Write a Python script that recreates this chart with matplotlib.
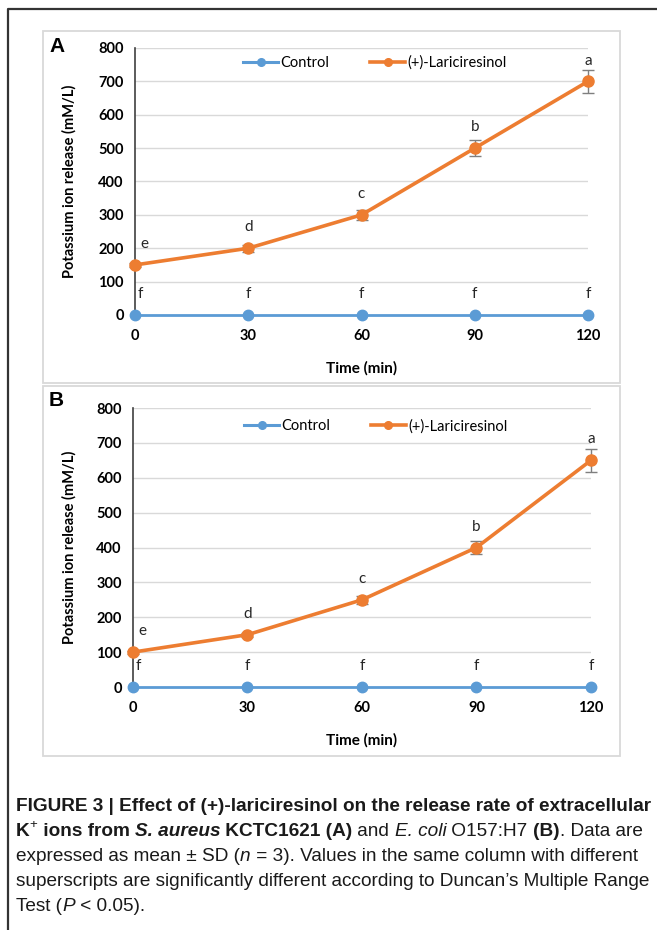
import matplotlib
matplotlib.use('Agg')
import matplotlib.pyplot as plt
from matplotlib import font_manager
from matplotlib.patches import Rectangle
from matplotlib.lines import Line2D

# ---- data ----
times = [0, 30, 60, 90, 120]
control_A = [0, 0, 0, 0, 0]
lari_A = [150, 200, 300, 500, 700]
lari_err_A = [5, 10, 14, 25, 34]
control_B = [0, 0, 0, 0, 0]
lari_B = [100, 150, 250, 400, 650]
lari_err_B = [4, 6, 12, 19, 33]
letters_lari_A = ['e', 'd', 'c', 'b', 'a']
letters_lari_B = ['e', 'd', 'c', 'b', 'a']
letters_ctrl = ['f', 'f', 'f', 'f', 'f']
yticks = [0, 100, 200, 300, 400, 500, 600, 700, 800]

BLUE = '#5B9BD5'
ORANGE = '#ED7D31'
GRID = '#D9D9D9'
CHART_FONT = ['Lato', 'DejaVu Sans']

W, H = 657, 930
fig = plt.figure(figsize=(W / 100, H / 100), dpi=100)


def px(x0, y0, x1, y1):
    # top-left pixel box -> figure fraction rect
    return [x0 / W, 1 - y1 / H, (x1 - x0) / W, (y1 - y0) / H]


def panel(box, axbox, tag, ctrl, lari, err, lab_lari, lab_ctrl, leg_y):
    bx = Rectangle((box[0] / W, 1 - box[3] / H), (box[2] - box[0]) / W,
                   (box[3] - box[1]) / H, transform=fig.transFigure,
                   facecolor='white', edgecolor=GRID, lw=1.3, zorder=-1)
    fig.patches.append(bx)
    fig.text((box[0] + 6) / W, 1 - (box[1] + 15) / H, tag, fontsize=15,
             fontweight='bold', family='Liberation Sans', va='center')

    ax = fig.add_axes(px(*axbox))
    ax.set_facecolor('none')
    ax.set_xlim(0, 120)
    ax.set_ylim(0, 800)
    ax.set_xticks(times)
    ax.set_yticks(yticks)
    ax.tick_params(length=0, labelsize=10.5, pad=10)
    ax.tick_params(axis='y', pad=8)
    for lbl in ax.get_xticklabels() + ax.get_yticklabels():
        lbl.set_fontweight('bold')
        lbl.set_family(CHART_FONT)
    for g in yticks[1:]:
        ax.axhline(g, color=GRID, lw=1, zorder=0)
    for s in ['top', 'right']:
        ax.spines[s].set_visible(False)
    ax.spines['left'].set_color('#404040')
    ax.spines['left'].set_linewidth(1.2)
    ax.spines['bottom'].set_color('#A6A6A6')

    ax.plot(times, ctrl, color=BLUE, lw=2, marker='o', ms=7.5,
            clip_on=False, zorder=4, label='Control')
    ax.errorbar(times, lari, yerr=err, color=ORANGE, lw=2.6, marker='o',
                ms=8, ecolor='#7F7F7F', elinewidth=1, capsize=4,
                capthick=1, clip_on=False, zorder=5, label='(+)-Lariciresinol')

    for t, v, s in zip(times, lari, lab_lari):
        ax.annotate(s, (t, v), xytext=(7 if t == 0 else 0, 15),
                    textcoords='offset points', ha='center', va='center',
                    fontsize=11, family=CHART_FONT, color='#262626')
    for t, v, s in zip(times, ctrl, lab_ctrl):
        ax.annotate(s, (t, v), xytext=(4 if t == 0 else 0, 15),
                    textcoords='offset points', ha='center', va='center',
                    fontsize=11, family=CHART_FONT, color='#262626')

    handles = [Line2D([], [], color=BLUE, lw=2.2, marker='o', ms=5.5),
               Line2D([], [], color=ORANGE, lw=2.6, marker='o', ms=5.5)]
    ax.legend(handles, ['Control', '(+)-Lariciresinol'], loc='center',
              bbox_to_anchor=(0.53, leg_y), ncol=2, frameon=False,
              handlelength=2.4, handletextpad=0.15, columnspacing=2.8,
              prop={'family': CHART_FONT, 'size': 10.5})

    ax.set_ylabel('Potassium ion release (mM/L)', fontsize=10.5,
                  fontweight='bold', family=CHART_FONT)
    ax.set_xlabel('Time (min)', fontsize=11, fontweight='bold',
                  family=CHART_FONT)
    axw = axbox[2] - axbox[0]
    axh = axbox[3] - axbox[1]
    ax.yaxis.set_label_coords((77 - axbox[0]) / axw, 0.5)
    ax.xaxis.set_label_coords(0.5, -(46) / axh)
    return ax


panel((43, 31, 620, 383), (135, 48, 588, 315), 'A', control_A, lari_A,
      lari_err_A, letters_lari_A, letters_ctrl, 0.945)
panel((43, 386, 620, 756), (133, 408, 591, 687), 'B', control_B, lari_B,
      lari_err_B, letters_lari_B, letters_ctrl, 0.935)

# outer frame (left and top edges)
fig.add_artist(Line2D([8 / W, 8 / W, 1.0], [0.0, 1 - 9 / H, 1 - 9 / H],
                      transform=fig.transFigure, color='#333333', lw=1.6))

# ---- caption built from styled runs ----
names = {f.name for f in font_manager.fontManager.ttflist}
CAP = ['Liberation Sans Narrow', 'Liberation Sans'] if 'Liberation Sans Narrow' in names else ['Liberation Sans']
renderer = fig.canvas.get_renderer()


def run_width(s, size, weight, style):
    a = fig.text(0, 0, s + '|', fontsize=size, fontweight=weight,
                 fontstyle=style, family=CAP, transform=None)
    b = fig.text(0, 0, '|', fontsize=size, fontweight=weight,
                 fontstyle=style, family=CAP, transform=None)
    w = a.get_window_extent(renderer).width - b.get_window_extent(renderer).width
    a.remove()
    b.remove()
    return w


lines = [
    [('FIGURE 3 | Effect of (+)-lariciresinol on the release rate of extracellular', 'bold', 'normal', False)],
    [('K', 'bold', 'normal', False), ('+', 'normal', 'normal', True),
     (' ions from ', 'bold', 'normal', False), ('S. aureus', 'bold', 'italic', False),
     (' KCTC1621 (A)', 'bold', 'normal', False), (' and ', 'normal', 'normal', False),
     ('E. coli', 'normal', 'italic', False), (' O157:H7 ', 'normal', 'normal', False),
     ('(B)', 'bold', 'normal', False), ('. Data are', 'normal', 'normal', False)],
    [('expressed as mean \u00b1 SD (', 'normal', 'normal', False), ('n', 'normal', 'italic', False),
     (' = 3). Values in the same column with different', 'normal', 'normal', False)],
    [('superscripts are significantly different according to Duncan\u2019s Multiple Range', 'normal', 'normal', False)],
    [('Test (', 'normal', 'normal', False), ('P', 'normal', 'italic', False),
     (' < 0.05).', 'normal', 'normal', False)],
]

base = 12.0
w1 = run_width(lines[0][0][0], base, 'bold', 'normal')
size = base * 632 / w1
line_y = [806, 831, 856, 881, 906]
for runs, yc in zip(lines, line_y):
    x = 16
    for s, weight, style, sup in runs:
        fs = size * 0.7 if sup else size
        yy = H - yc + (size * 0.45 if sup else 0)
        fig.text(x, yy, s, fontsize=fs, fontweight=weight, fontstyle=style,
                 family=CAP, transform=None, va='center', color='#1a1a1a')
        x += run_width(s, fs, weight, style)

fig.savefig('out.png', dpi=100)
